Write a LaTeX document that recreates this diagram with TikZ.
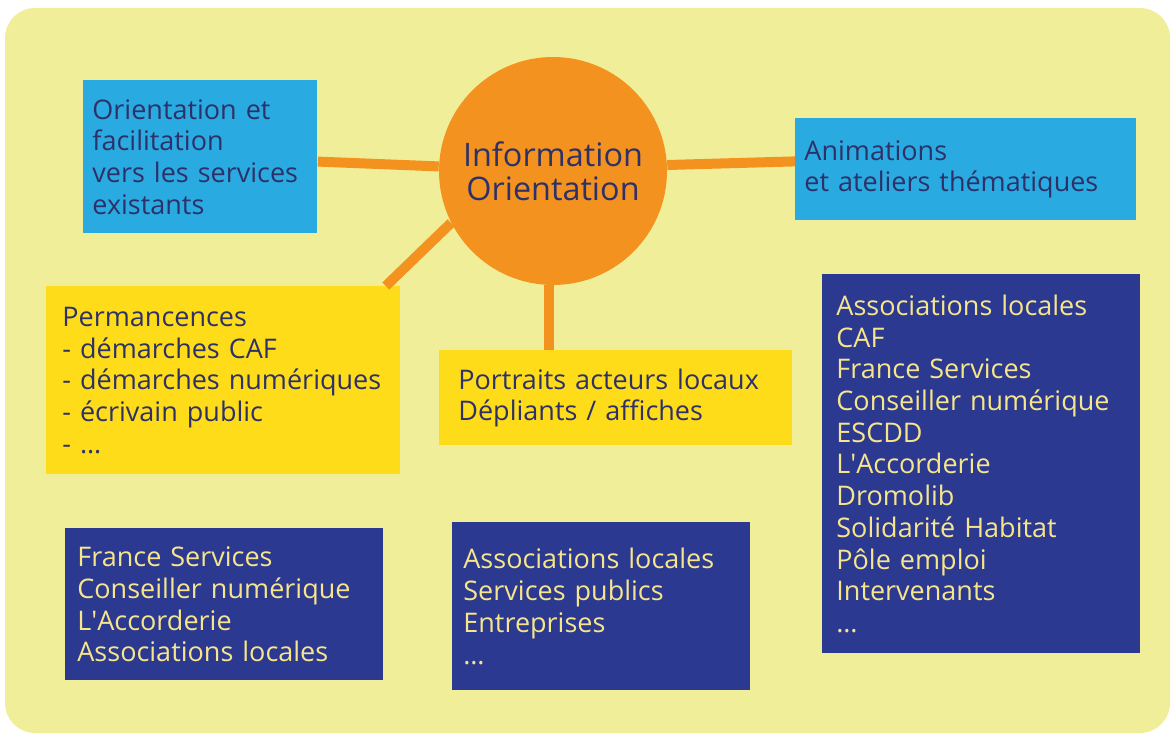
\documentclass[tikz,border=0pt]{standalone}
\usepackage{fontspec}
\setmainfont{Open Sans}
\usepackage{tikz}
\usetikzlibrary{positioning}

\definecolor{paleyellow}{RGB}{240,238,153}
\definecolor{skyblue}{RGB}{41,171,226}
\definecolor{sunyellow}{RGB}{254,220,26}
\definecolor{hubor}{RGB}{244,146,32}
\definecolor{navybox}{RGB}{43,57,144}
\definecolor{inkblue}{RGB}{46,49,104}
\definecolor{lighttext}{RGB}{247,229,140}

\tikzset{
    panel/.style={anchor=north west, align=left, inner ysep=0pt, text=inkblue,
        font=\fontsize{13.5}{15.85}\selectfont},
    partners/.style={panel, fill=navybox, text=lighttext},
    link/.style={hubor, line width=5pt}
}

\begin{document}
\begin{tikzpicture}[x=0.5pt, y=-0.5pt]

    \useasboundingbox (0,0) rectangle (1176,737);

    % draw background
    \fill[paleyellow, rounded corners=15pt] (5,8) rectangle (1170,733);

    % draw hub
    \node[circle, fill=hubor, minimum size=114pt, inner sep=0pt, text=inkblue,
        align=center, font=\fontsize{16.2}{16.8}\selectfont] (info) at (553,171)
        {Information\\Orientation};

    % draw blue boxes
    \node[panel, fill=skyblue, inner xsep=4.5pt, text width=108pt, minimum height=76.5pt]
        (orient) at (83,80)
        {Orientation et\\facilitation\\vers les services\\existants};
    \node[panel, fill=skyblue, inner xsep=4.5pt, text width=161.5pt, minimum height=51pt]
        (anim) at (795,118)
        {Animations\\et ateliers thématiques};

    % draw yellow boxes
    \node[panel, fill=sunyellow, inner xsep=8pt, text width=161pt, minimum height=94pt]
        (perm) at (46,286)
        {Permancences\\- démarches CAF\\- démarches numériques\\- écrivain public\\- \dots};
    \node[panel, fill=sunyellow, inner xsep=9.5pt, text width=157.5pt, minimum height=47.5pt]
        (portraits) at (439,350)
        {Portraits acteurs locaux\\Dépliants / affiches};

    % draw partner boxes
    \node[partners, inner xsep=6pt, text width=147pt, minimum height=76pt]
        (partA) at (65,528)
        {France Services\\Conseiller numérique\\L\textquotesingle Accorderie\\Associations locales};
    \node[partners, inner xsep=5.5pt, text width=138pt, minimum height=84pt]
        (partB) at (452,522)
        {Associations locales\\Services publics\\Entreprises\\\dots};
    \node[partners, inner xsep=7pt, text width=145pt, minimum height=189.5pt]
        (partC) at (822,274)
        {Associations locales\\CAF\\France Services\\Conseiller numérique\\ESCDD\\L\textquotesingle Accorderie\\Dromolib\\Solidarité Habitat\\Pôle emploi\\Intervenants\\\dots};

    % draw links
    \draw[link] (orient) -- (info);
    \draw[link] (info.3) -- ([yshift=4pt]anim.west);
    \draw[link] (info.207) -- ([xshift=-7.5pt]perm.north east);
    \draw[link] (info.268) -- (info.268 |- portraits.north);

\end{tikzpicture}
\end{document}
